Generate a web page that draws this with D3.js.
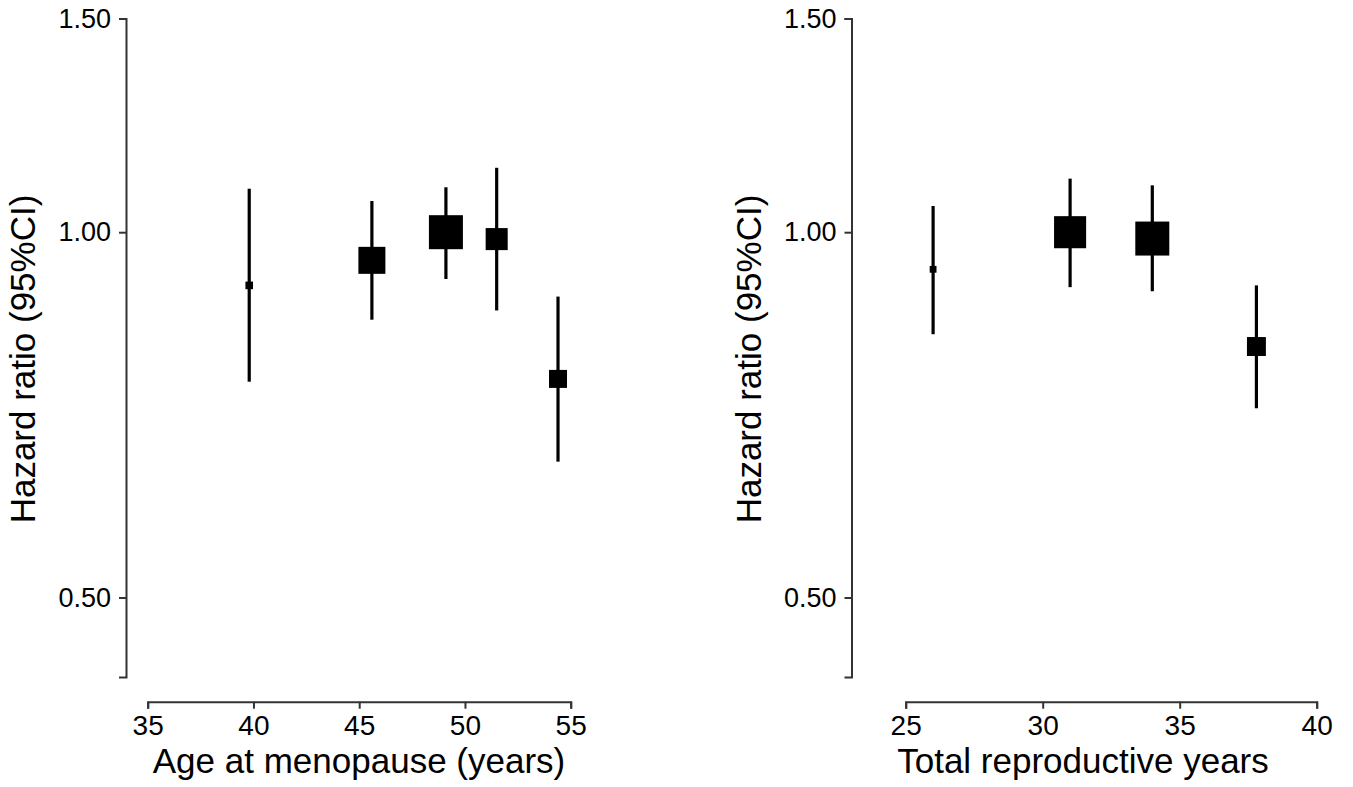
<!DOCTYPE html>
<html>
<head>
<meta charset="utf-8">
<script src="https://cdn.jsdelivr.net/npm/d3@7"></script>
<style>
  body { margin: 0; background: #fff; }
  text { font-family: "Liberation Sans", Arial, sans-serif; fill: #000; }
</style>
</head>
<body>
<svg id="chart" width="1353" height="787"></svg>
<script>
// age at menopause panel
var ageX = [39.8, 45.6, 49.1, 51.5, 54.4]
var ageHR = [0.904, 0.948, 1.0, 0.987, 0.757]
var ageLo = [0.753, 0.847, 0.915, 0.862, 0.647]
var ageHi = [1.086, 1.061, 1.089, 1.130, 0.885]
var ageWeight = [0.05, 0.63, 1.0, 0.42, 0.28]
var ageTicks = [35, 40, 45, 50, 55]

// total reproductive years panel
var repX = [26.0, 31.0, 34.0, 37.8]
var repHR = [0.932, 1.0, 0.988, 0.805]
var repLo = [0.824, 0.901, 0.894, 0.716]
var repHi = [1.051, 1.107, 1.093, 0.904]
var repWeight = [0.04, 0.89, 1.0, 0.31]
var repTicks = [25, 30, 35, 40]

var hrTicks = [0.5, 1.0, 1.5]

var svg = d3.select("#chart")
var axisColor = "#333"

var y = d3.scaleLog().domain([0.43, 1.5]).range([677, 18.5])
var size = d3.scaleSqrt().domain([0, 1]).range([0, 34])

function drawPanel(opts) {
  var x = d3.scaleLinear().domain(opts.xDomain).range(opts.xRange)

  var data = opts.xs.map(function(v, i) {
    return {x: v, hr: opts.hr[i], lo: opts.lo[i], hi: opts.hi[i], w: opts.w[i]}
  })

  // y axis
  var yAxis = d3.axisLeft(y).tickValues(hrTicks).tickFormat(d3.format(".2f"))
    .tickSize(7).tickPadding(8)
  var gy = svg.append("g")
    .attr("transform", "translate(" + opts.yAxisX + ",0)")
    .call(yAxis)
  gy.selectAll("text").style("font-size", "27px")

  // x axis
  var xAxis = d3.axisBottom(x).tickValues(opts.ticks).tickSize(7).tickPadding(6)
  var gx = svg.append("g")
    .attr("transform", "translate(0,701.7)")
    .call(xAxis)
  gx.selectAll("text").style("font-size", "28px")

  svg.selectAll(".domain, .tick line")
    .attr("stroke", axisColor).attr("stroke-width", 2)

  // axis titles
  svg.append("text")
    .attr("x", opts.xTitleX)
    .attr("y", 773)
    .attr("text-anchor", "middle")
    .style("font-size", "35px")
    .text(opts.xTitle)

  svg.append("text")
    .attr("transform", "translate(" + (opts.yAxisX - 91) + ",359) rotate(-90)")
    .attr("text-anchor", "middle")
    .style("font-size", "35px")
    .text("Hazard ratio (95%CI)")

  var g = svg.append("g")

  // confidence intervals
  g.selectAll("line.ci")
    .data(data)
    .enter().append("line")
    .attr("class", "ci")
    .attr("x1", function(d) { return x(d.x) })
    .attr("x2", function(d) { return x(d.x) })
    .attr("y1", function(d) { return y(d.lo) })
    .attr("y2", function(d) { return y(d.hi) })
    .attr("stroke", "#000")
    .attr("stroke-width", 3.2)

  // point estimates, square size by weight
  g.selectAll("rect.est")
    .data(data)
    .enter().append("rect")
    .attr("class", "est")
    .attr("x", function(d) { return x(d.x) - size(d.w) / 2 })
    .attr("y", function(d) { return y(d.hr) - size(d.w) / 2 })
    .attr("width", function(d) { return size(d.w) })
    .attr("height", function(d) { return size(d.w) })
    .attr("fill", "#000")
}

drawPanel({
  xs: ageX, hr: ageHR, lo: ageLo, hi: ageHi, w: ageWeight,
  ticks: ageTicks, xDomain: [35, 55], xRange: [147.7, 570.7],
  yAxisX: 126, xTitle: "Age at menopause (years)", xTitleX: 359
})

drawPanel({
  xs: repX, hr: repHR, lo: repLo, hi: repHi, w: repWeight,
  ticks: repTicks, xDomain: [25, 40], xRange: [905.7, 1316.7],
  yAxisX: 851.5, xTitle: "Total reproductive years", xTitleX: 1083
})
</script>
</body>
</html>
